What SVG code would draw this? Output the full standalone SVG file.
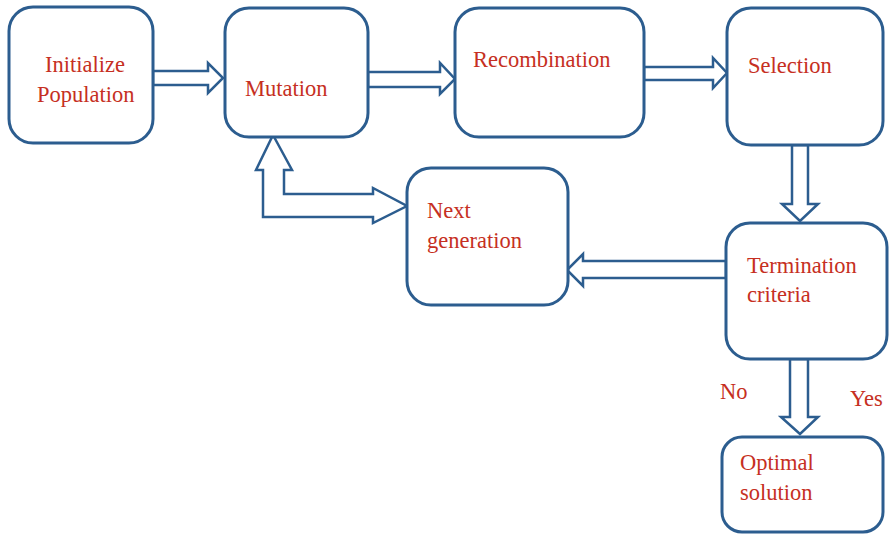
<svg xmlns="http://www.w3.org/2000/svg" width="889" height="534" viewBox="0 0 889 534">
<style>
.box{fill:#fff;stroke:#2c5d8f;stroke-width:3}
.arr{fill:#fff;stroke:#2c5d8f;stroke-width:2.5;stroke-linejoin:miter}
text{font-family:'Liberation Serif',Tinos,'DejaVu Serif',serif;font-size:22.5px;fill:#c62f22}
</style>
<rect width="889" height="534" fill="#fff"/>
<g id="connectors">
<polygon class="arr" points="153,71 208,71 208,63 223,78 208,93 208,85 153,85"/>
<polygon class="arr" points="368,72 440,72 440,63 455,79 440,94 440,87 368,87"/>
<polygon class="arr" points="644,67 713,67 713,58 727,73 713,88 713,80 644,80"/>
<polygon class="arr" points="792,145 808,145 808,204 818,204 800,221 782,204 792,204"/>
<polygon class="arr" points="726,261 583,261 583,254 567,270 583,286 583,278 726,278"/>
<polygon class="arr" points="790,359 808,359 808,417 818,417 800,434 781,417 790,417"/>
<polygon class="arr" points="273,135 292,170 284,170 284,194 373,194 373,188 407,206 373,223 373,217 263,217 263,170 256,170"/>
</g>
<g id="init"><rect class="box" x="9" y="7" width="144" height="136" rx="24"/><text x="45" y="72">Initialize</text><text x="37" y="102">Population</text></g>
<g id="mutation"><rect class="box" x="225" y="8" width="143" height="129" rx="24"/><text x="245" y="96">Mutation</text></g>
<g id="recombination"><rect class="box" x="455" y="8" width="189" height="129" rx="24"/><text x="473" y="67">Recombination</text></g>
<g id="selection"><rect class="box" x="727" y="8" width="156" height="137" rx="24"/><text x="748" y="73">Selection</text></g>
<g id="nextgen"><rect class="box" x="407" y="168" width="161" height="137" rx="24"/><text x="427" y="218">Next</text><text x="427" y="248">generation</text></g>
<g id="termination"><rect class="box" x="726" y="223" width="161" height="136" rx="24"/><text x="747" y="273">Termination</text><text x="747" y="302">criteria</text></g>
<g id="optimal"><rect class="box" x="722" y="437" width="161" height="95" rx="20"/><text x="740" y="470">Optimal</text><text x="740" y="500">solution</text></g>
<g id="labels"><text x="720" y="399">No</text><text x="850" y="406">Yes</text></g>
</svg>
